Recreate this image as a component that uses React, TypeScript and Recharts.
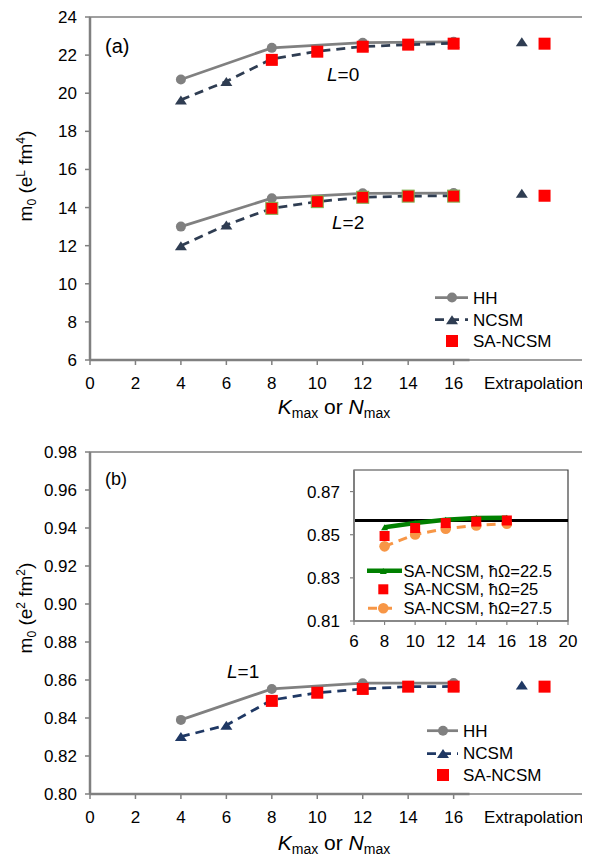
import React from 'react';
import { LineChart, Line, XAxis, YAxis, ReferenceArea, ReferenceLine } from 'recharts';

const FONT = '"Liberation Sans", Arial, Helvetica, sans-serif';
const GRAY = '#808080';
const NAVY_A = '#2f3d52';
const NAVY_B = '#1f3864';
const RED = '#ff0000';
const GREEN = '#008000';
const ORANGE = '#f79646';
const BOX = '#404040';
const SQ_EDGE = '#7fb050';

// shared x values
const hhX = [4, 8, 12, 16];
const ncsmX = [4, 6, 8, 10, 12, 14, 16];
const saX = [8, 10, 12, 14, 16];
const extrapNcsmX = 19;
const extrapSaX = 20;
const xTicks = [0, 2, 4, 6, 8, 10, 12, 14, 16];

// panel (a)
const yTicksA = [6, 8, 10, 12, 14, 16, 18, 20, 22, 24];
const hhL0 = [20.72, 22.38, 22.65, 22.7];
const ncsmL0 = [19.65, 20.62, 21.8, 22.2, 22.45, 22.55, 22.62];
const saL0 = [21.75, 22.18, 22.44, 22.55, 22.6];
const hhL2 = [13.0, 14.49, 14.75, 14.76];
const ncsmL2 = [12.0, 13.09, 13.96, 14.31, 14.54, 14.6, 14.62];
const saL2 = [13.96, 14.31, 14.54, 14.6, 14.6];
const extrapNcsmA = [22.7, 14.75];
const extrapSaA = [22.6, 14.62];

// panel (b)
const yTicksB = [0.8, 0.82, 0.84, 0.86, 0.88, 0.9, 0.92, 0.94, 0.96, 0.98];
const hhL1 = [0.839, 0.8553, 0.8583, 0.8584];
const ncsmL1 = [0.8302, 0.8362, 0.8495, 0.8533, 0.8553, 0.8565, 0.8566];
const saL1 = [0.849, 0.8533, 0.8553, 0.8565, 0.8565];
const extrapNcsmB = [0.8574];
const extrapSaB = [0.8565];

// inset
const insetX = [8, 10, 12, 14, 16];
const insetXTicks = [6, 8, 10, 12, 14, 16, 18, 20];
const insetYTicks = [0.81, 0.83, 0.85, 0.87];
const sa225 = [0.8535, 0.8554, 0.8569, 0.8577, 0.8579];
const sa25 = [0.8494, 0.8531, 0.8554, 0.8561, 0.8566];
const sa275 = [0.8446, 0.8501, 0.8528, 0.8543, 0.8551];
const insetRef = 0.8566;

const pts = (xs: number[], ys: number[]) => xs.map((x, i) => ({ x, y: ys[i] }));
const same = (x: number, ys: number[]) => ys.map((y) => ({ x, y }));

const circleDot = (color: string, r: number, id: string) => (p: any) =>
  p.cx == null ? <g key={`${id}-${p.index}`} /> : (
    <circle key={`${id}-${p.index}`} cx={p.cx} cy={p.cy} r={r} fill={color} />
  );
const triDot = (color: string, w: number, h: number, id: string) => (p: any) =>
  p.cx == null ? <g key={`${id}-${p.index}`} /> : (
    <polygon
      key={`${id}-${p.index}`}
      points={`${p.cx - w / 2},${p.cy + h / 2} ${p.cx + w / 2},${p.cy + h / 2} ${p.cx},${p.cy - h / 2}`}
      fill={color}
    />
  );
const squareDot = (color: string, s: number, id: string, edge = 'none') => (p: any) =>
  p.cx == null ? <g key={`${id}-${p.index}`} /> : (
    <rect
      key={`${id}-${p.index}`}
      x={p.cx - s / 2}
      y={p.cy - s / 2}
      width={s}
      height={s}
      fill={color}
      stroke={edge}
      strokeWidth={1}
    />
  );

const tickStyle = { fontSize: 17, fill: '#000', fontFamily: FONT };

function TopChart() {
  return (
    <LineChart width={590} height={430} margin={{ top: 17, right: 0, left: 0, bottom: 40 }}>
      <XAxis
        type="number"
        dataKey="x"
        domain={[0, 22]}
        ticks={xTicks}
        axisLine={false}
        tickLine={{ stroke: GRAY, strokeWidth: 1.5 }}
        tickSize={5}
        tickMargin={12}
        height={30}
        tick={tickStyle}
        interval={0}
      />
      <YAxis
        type="number"
        dataKey="y"
        domain={[6, 24]}
        ticks={yTicksA}
        width={90}
        axisLine={{ stroke: GRAY, strokeWidth: 2.5 }}
        tickLine={{ stroke: GRAY, strokeWidth: 1.5 }}
        tickSize={5}
        tickMargin={8}
        tick={tickStyle}
        interval={0}
      />
      <ReferenceArea x1={0} x2={22} y1={6} y2={24} fill="none" fillOpacity={0} stroke={BOX} strokeWidth={1.2} />
      <ReferenceLine segment={[{ x: 0, y: 6 }, { x: 16.7, y: 6 }]} stroke={GRAY} strokeWidth={2.5} />
      <Line data={pts(hhX, hhL0)} dataKey="y" type="linear" stroke={GRAY} strokeWidth={2.75} dot={circleDot(GRAY, 5, 'h0')} isAnimationActive={false} />
      <Line data={pts(hhX, hhL2)} dataKey="y" type="linear" stroke={GRAY} strokeWidth={2.75} dot={circleDot(GRAY, 5, 'h2')} isAnimationActive={false} />
      <Line data={pts(ncsmX, ncsmL0)} dataKey="y" type="linear" stroke={NAVY_A} strokeWidth={2.75} strokeDasharray="9 6" dot={triDot(NAVY_A, 12, 9, 'n0')} isAnimationActive={false} />
      <Line data={pts(ncsmX, ncsmL2)} dataKey="y" type="linear" stroke={NAVY_A} strokeWidth={2.75} strokeDasharray="9 6" dot={triDot(NAVY_A, 12, 9, 'n2')} isAnimationActive={false} />
      <Line data={pts(saX, saL0)} dataKey="y" stroke="none" dot={squareDot(RED, 12, 's0')} isAnimationActive={false} />
      <Line data={pts(saX, saL2)} dataKey="y" stroke="none" dot={squareDot(RED, 12, 's2', SQ_EDGE)} isAnimationActive={false} />
      <Line data={same(extrapNcsmX, extrapNcsmA)} dataKey="y" stroke="none" dot={triDot(NAVY_A, 12, 9, 'en')} isAnimationActive={false} />
      <Line data={same(extrapSaX, extrapSaA)} dataKey="y" stroke="none" dot={squareDot(RED, 12, 'es')} isAnimationActive={false} />
    </LineChart>
  );
}

function BottomChart() {
  return (
    <LineChart width={590} height={427} margin={{ top: 22, right: 0, left: 0, bottom: 33 }}>
      <XAxis
        type="number"
        dataKey="x"
        domain={[0, 22]}
        ticks={xTicks}
        axisLine={false}
        tickLine={{ stroke: GRAY, strokeWidth: 1.5 }}
        tickSize={5}
        tickMargin={12}
        height={30}
        tick={tickStyle}
        interval={0}
      />
      <YAxis
        type="number"
        dataKey="y"
        domain={[0.8, 0.98]}
        ticks={yTicksB}
        tickFormatter={(v: number) => v.toFixed(2)}
        width={90}
        axisLine={{ stroke: GRAY, strokeWidth: 2.5 }}
        tickLine={{ stroke: GRAY, strokeWidth: 1.5 }}
        tickSize={5}
        tickMargin={8}
        tick={tickStyle}
        interval={0}
      />
      <ReferenceArea x1={0} x2={22} y1={0.8} y2={0.98} fill="none" fillOpacity={0} stroke={BOX} strokeWidth={1.2} />
      <ReferenceLine segment={[{ x: 0, y: 0.8 }, { x: 16.7, y: 0.8 }]} stroke={GRAY} strokeWidth={2.5} />
      <Line data={pts(hhX, hhL1)} dataKey="y" type="linear" stroke={GRAY} strokeWidth={2.75} dot={circleDot(GRAY, 5, 'h1')} isAnimationActive={false} />
      <Line data={pts(ncsmX, ncsmL1)} dataKey="y" type="linear" stroke={NAVY_B} strokeWidth={2.75} strokeDasharray="9 6" dot={triDot(NAVY_B, 12, 9, 'n1')} isAnimationActive={false} />
      <Line data={pts(saX, saL1)} dataKey="y" stroke="none" dot={squareDot(RED, 12, 's1')} isAnimationActive={false} />
      <Line data={same(extrapNcsmX, extrapNcsmB)} dataKey="y" stroke="none" dot={triDot(NAVY_B, 12, 9, 'enb')} isAnimationActive={false} />
      <Line data={same(extrapSaX, extrapSaB)} dataKey="y" stroke="none" dot={squareDot(RED, 12, 'esb')} isAnimationActive={false} />
    </LineChart>
  );
}

function InsetChart() {
  const t = { fontSize: 17, fill: '#000', fontFamily: FONT };
  return (
    <LineChart width={290} height={200} margin={{ top: 10, right: 12, left: 0, bottom: 9 }}>
      <XAxis
        type="number"
        dataKey="x"
        domain={[6, 20]}
        ticks={insetXTicks}
        axisLine={{ stroke: GRAY, strokeWidth: 1.5 }}
        tickLine={{ stroke: GRAY, strokeWidth: 1.2 }}
        tickSize={4}
        tickMargin={10}
        height={30}
        tick={t}
        interval={0}
      />
      <YAxis
        type="number"
        dataKey="y"
        domain={[0.81, 0.88]}
        ticks={insetYTicks}
        tickFormatter={(v: number) => v.toFixed(2)}
        width={64}
        axisLine={{ stroke: GRAY, strokeWidth: 2 }}
        tickLine={{ stroke: GRAY, strokeWidth: 1.2 }}
        tickSize={4}
        tickMargin={10}
        tick={t}
        interval={0}
      />
      <ReferenceArea x1={6} x2={20} y1={0.81} y2={0.88} fill="#fff" fillOpacity={1} stroke={BOX} strokeWidth={1.2} />
      <ReferenceLine y={insetRef} stroke="#000" strokeWidth={3} />
      <Line data={pts(insetX, sa275)} dataKey="y" type="linear" stroke={ORANGE} strokeWidth={3} strokeDasharray="9 6" dot={circleDot(ORANGE, 5.3, 'o')} isAnimationActive={false} />
      <Line data={pts(insetX, sa225)} dataKey="y" type="linear" stroke={GREEN} strokeWidth={4.5} dot={triDot(GREEN, 7, 6, 'g')} isAnimationActive={false} />
      <Line data={pts(insetX, sa25)} dataKey="y" stroke="none" dot={squareDot(RED, 10, 'r')} isAnimationActive={false} />
    </LineChart>
  );
}

function Overlay() {
  const tri = (cx: number, cy: number, c: string) => (
    <polygon points={`${cx - 6},${cy + 4.5} ${cx + 6},${cy + 4.5} ${cx},${cy - 4.5}`} fill={c} />
  );
  return (
    <svg
      width={590}
      height={857}
      style={{ position: 'absolute', left: 0, top: 0, pointerEvents: 'none' }}
      fontFamily={FONT}
    >
      {/* panel (a) annotations */}
      <text x={105} y={52.5} fontSize={20} fill="#000">(a)</text>
      <text x={327} y={81} fontSize={19} fill="#000"><tspan fontStyle="italic">L</tspan>=0</text>
      <text x={332} y={228.5} fontSize={19} fill="#000"><tspan fontStyle="italic">L</tspan>=2</text>
      <text x={484} y={389} fontSize={17} fill="#000">Extrapolation</text>
      <text x={334} y={414} fontSize={21} fill="#000" textAnchor="middle">
        <tspan fontStyle="italic">K</tspan>
        <tspan fontSize={14} dy={4}>max</tspan>
        <tspan dy={-4}> or </tspan>
        <tspan fontStyle="italic">N</tspan>
        <tspan fontSize={14} dy={4}>max</tspan>
      </text>
      <text x={32} y={176} fontSize={19} fill="#000" textAnchor="middle" transform="rotate(-90 32 176)">
        m<tspan fontSize={12} dy={4}>0</tspan>
        <tspan dy={-4}> (e</tspan>
        <tspan fontSize={12} dy={-7}>L</tspan>
        <tspan dy={7}> fm</tspan>
        <tspan fontSize={12} dy={-7}>4</tspan>
        <tspan dy={7}>)</tspan>
      </text>
      {/* legend (a) */}
      <line x1={435} x2={468} y1={297.5} y2={297.5} stroke={GRAY} strokeWidth={2.75} />
      <circle cx={452} cy={297.5} r={5} fill={GRAY} />
      <text x={473} y={303.5} fontSize={17} fill="#000">HH</text>
      <line x1={435} x2={468} y1={319.7} y2={319.7} stroke={NAVY_A} strokeWidth={2.75} strokeDasharray="9 6" />
      {tri(452, 319.7, NAVY_A)}
      <text x={473} y={325.7} fontSize={17} fill="#000">NCSM</text>
      <rect x={446} y={335} width={12} height={12} fill={RED} />
      <text x={473} y={347} fontSize={17} fill="#000">SA-NCSM</text>

      {/* panel (b) annotations */}
      <text x={105} y={484.5} fontSize={18} fill="#000">(b)</text>
      <text x={227} y={677.5} fontSize={19} fill="#000"><tspan fontStyle="italic">L</tspan>=1</text>
      <text x={484} y={823} fontSize={17} fill="#000">Extrapolation</text>
      <text x={334} y={850} fontSize={21} fill="#000" textAnchor="middle">
        <tspan fontStyle="italic">K</tspan>
        <tspan fontSize={14} dy={4}>max</tspan>
        <tspan dy={-4}> or </tspan>
        <tspan fontStyle="italic">N</tspan>
        <tspan fontSize={14} dy={4}>max</tspan>
      </text>
      <text x={32} y={608} fontSize={19} fill="#000" textAnchor="middle" transform="rotate(-90 32 608)">
        m<tspan fontSize={12} dy={4}>0</tspan>
        <tspan dy={-4}> (e</tspan>
        <tspan fontSize={12} dy={-7}>2</tspan>
        <tspan dy={7}> fm</tspan>
        <tspan fontSize={12} dy={-7}>2</tspan>
        <tspan dy={7}>)</tspan>
      </text>
      {/* legend (b) */}
      <line x1={427} x2={458} y1={730.7} y2={730.7} stroke={GRAY} strokeWidth={2.75} />
      <circle cx={443} cy={730.7} r={5} fill={GRAY} />
      <text x={463} y={737} fontSize={17} fill="#000">HH</text>
      <line x1={427} x2={458} y1={753.5} y2={753.5} stroke={NAVY_B} strokeWidth={2.75} strokeDasharray="9 6" />
      {tri(443, 753.5, NAVY_B)}
      <text x={463} y={759.3} fontSize={17} fill="#000">NCSM</text>
      <rect x={437} y={769} width={12} height={12} fill={RED} />
      <text x={463} y={781} fontSize={17} fill="#000">SA-NCSM</text>

      {/* inset legend */}
      <line x1={367} x2={402} y1={570.7} y2={570.7} stroke={GREEN} strokeWidth={4.5} />
      <polygon points={`379.8,574 386.8,574 383.3,568`} fill={GREEN} />
      <text x={403.5} y={577} fontSize={16.5} fill="#000">SA-NCSM, ħΩ=22.5</text>
      <rect x={378.3} y={584.3} width={10} height={10} fill={RED} />
      <text x={403.5} y={595.2} fontSize={16.5} fill="#000">SA-NCSM, ħΩ=25</text>
      <line x1={368} x2={397} y1={608.3} y2={608.3} stroke={ORANGE} strokeWidth={3} strokeDasharray="9 6" />
      <circle cx={383.3} cy={608.3} r={5.3} fill={ORANGE} />
      <text x={403.5} y={613.5} fontSize={16.5} fill="#000">SA-NCSM, ħΩ=27.5</text>
    </svg>
  );
}

export default function App() {
  return (
    <div style={{ position: 'relative', width: 590, height: 857, margin: '-8px 0 0 -8px', background: '#fff', overflow: 'hidden', fontFamily: FONT }}>
      <div style={{ position: 'absolute', left: 0, top: 0 }}>
        <TopChart />
      </div>
      <div style={{ position: 'absolute', left: 0, top: 430 }}>
        <BottomChart />
      </div>
      <div style={{ position: 'absolute', left: 290, top: 460 }}>
        <InsetChart />
      </div>
      <Overlay />
    </div>
  );
}
